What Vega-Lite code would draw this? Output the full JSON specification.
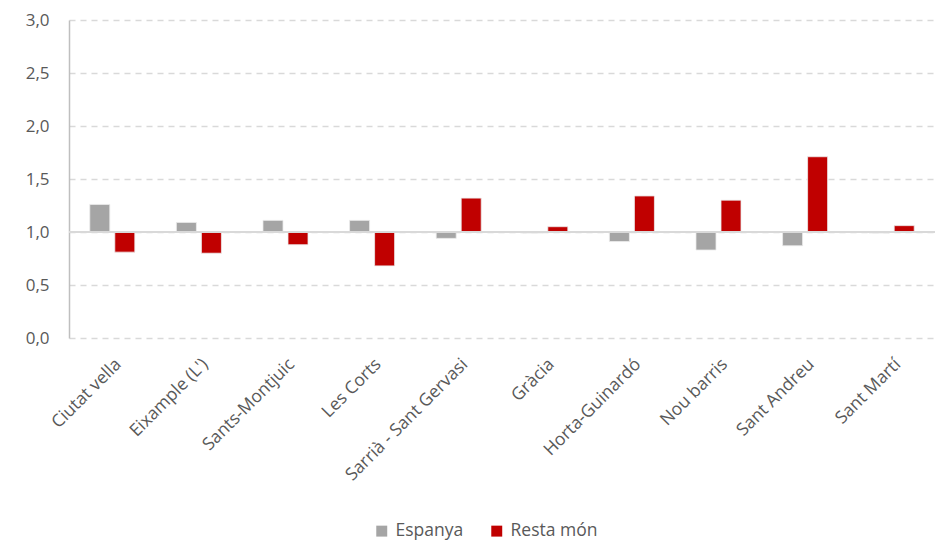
{
  "$schema": "https://vega.github.io/schema/vega-lite/v6.json",
  "width": 866,
  "height": 318,
  "autosize": {"type": "none"},
  "padding": {"left": 69, "top": 20, "right": 9, "bottom": 211},
  "background": "white",
  "config": {
    "font": "Open Sans, sans-serif",
    "view": {"stroke": null}
  },
  "data": {
    "values": [
      {"districte": "Ciutat vella", "origen": "Espanya", "valor": 1.26},
      {"districte": "Ciutat vella", "origen": "Resta món", "valor": 0.81},
      {"districte": "Eixample (L')", "origen": "Espanya", "valor": 1.09},
      {"districte": "Eixample (L')", "origen": "Resta món", "valor": 0.80},
      {"districte": "Sants-Montjuic", "origen": "Espanya", "valor": 1.11},
      {"districte": "Sants-Montjuic", "origen": "Resta món", "valor": 0.88},
      {"districte": "Les Corts", "origen": "Espanya", "valor": 1.11},
      {"districte": "Les Corts", "origen": "Resta món", "valor": 0.68},
      {"districte": "Sarrià - Sant Gervasi", "origen": "Espanya", "valor": 0.94},
      {"districte": "Sarrià - Sant Gervasi", "origen": "Resta món", "valor": 1.32},
      {"districte": "Gràcia", "origen": "Espanya", "valor": 0.99},
      {"districte": "Gràcia", "origen": "Resta món", "valor": 1.05},
      {"districte": "Horta-Guinardó", "origen": "Espanya", "valor": 0.91},
      {"districte": "Horta-Guinardó", "origen": "Resta món", "valor": 1.34},
      {"districte": "Nou barris", "origen": "Espanya", "valor": 0.83},
      {"districte": "Nou barris", "origen": "Resta món", "valor": 1.30},
      {"districte": "Sant Andreu", "origen": "Espanya", "valor": 0.87},
      {"districte": "Sant Andreu", "origen": "Resta món", "valor": 1.71},
      {"districte": "Sant Martí", "origen": "Espanya", "valor": 0.99},
      {"districte": "Sant Martí", "origen": "Resta món", "valor": 1.06}
    ]
  },
  "layer": [
    {
      "mark": {"type": "bar", "stroke": "#ececec", "strokeWidth": 0.8},
      "encoding": {
        "x": {
          "field": "districte",
          "type": "nominal",
          "sort": null,
          "scale": {"paddingInner": 0.48, "paddingOuter": 0.24},
          "axis": {
            "title": null,
            "labelAngle": -45,
            "labelAlign": "right",
            "labelBaseline": "top",
            "labelFontSize": 17.5,
            "labelColor": "#595959",
            "labelPadding": 17,
            "labelDx": -4,
            "domain": false,
            "ticks": false
          }
        },
        "xOffset": {
          "field": "origen",
          "type": "nominal",
          "scale": {"paddingInner": 0.2, "paddingOuter": 0}
        },
        "y": {
          "field": "valor",
          "type": "quantitative",
          "scale": {"domain": [0, 3]},
          "axis": {
            "title": null,
            "values": [0, 0.5, 1, 1.5, 2, 2.5, 3],
            "labelExpr": "replace(format(datum.value, '.1f'), '.', ',')",
            "labelFontSize": 17,
            "labelColor": "#595959",
            "labelPadding": 20,
            "domain": true,
            "domainColor": "#bfbfbf",
            "domainWidth": 1.5,
            "ticks": false,
            "grid": true,
            "gridColor": "#d9d9d9",
            "gridDash": [6, 5],
            "gridWidth": 1.5
          }
        },
        "y2": {"datum": 1},
        "color": {
          "field": "origen",
          "type": "nominal",
          "scale": {"domain": ["Espanya", "Resta món"], "range": ["#A5A5A5", "#C00000"]},
          "legend": {
            "title": null,
            "orient": "none",
            "direction": "horizontal",
            "legendX": 304,
            "legendY": 502,
            "symbolType": "square",
            "symbolSize": 120,
            "symbolStrokeWidth": 0,
            "labelFontSize": 17.5,
            "labelColor": "#595959",
            "columnPadding": 24,
            "labelOffset": 5
          }
        }
      }
    },
    {
      "mark": {"type": "rule", "color": "#d9d9d9", "strokeWidth": 2},
      "encoding": {"y": {"datum": 1}}
    }
  ]
}
